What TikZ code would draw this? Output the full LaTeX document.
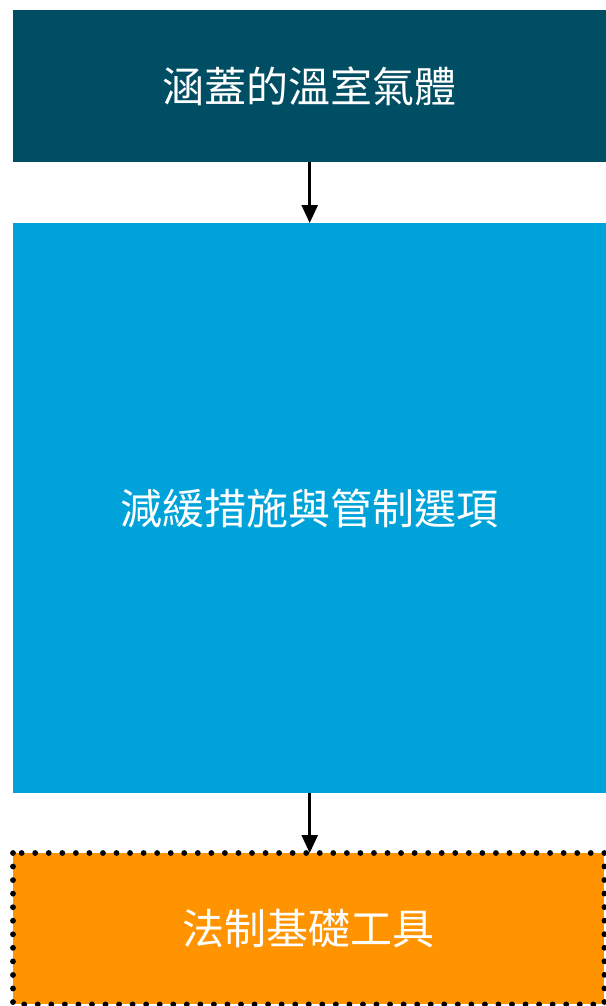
\documentclass[tikz,border=0pt]{standalone}
\usepackage{fontspec}
\newfontfamily\cjk{Noto Sans CJK TC}
\usetikzlibrary{arrows.meta}
\definecolor{topc}{RGB}{0,78,100}
\definecolor{midc}{RGB}{0,163,217}
\definecolor{botc}{RGB}{255,148,0}
\tikzset{
  box/.style={draw=none, inner sep=0pt, minimum width=593pt, anchor=north west, text=white, font=\cjk\fontsize{42}{50}\selectfont},
  conn/.style={line width=2.6pt, -{Triangle[width=16pt,length=18pt]}},
  dotborder/.style={line width=5.8pt, line cap=round, dash pattern=on 0pt off 13.55pt}
}
\begin{document}
\begin{tikzpicture}[x=1pt,y=1pt]
\useasboundingbox (0,0) rectangle (605,-1006);
\node[box, fill=topc, minimum height=152pt] (top) at (13,-10) {涵蓋的溫室氣體};
\node[box, fill=midc, minimum height=570pt] (mid) at (13,-223) {減緩措施與管制選項};
\node[box, fill=botc, minimum height=151pt, minimum width=591pt] (bot) at (13,-853) {法制基礎工具};
\draw[dotborder] (bot.north west) rectangle (bot.south east);
\draw[conn] (top.south) -- (mid.north);
\draw[conn] (mid.south) -- (mid.south |- bot.north);
\end{tikzpicture}
\end{document}
